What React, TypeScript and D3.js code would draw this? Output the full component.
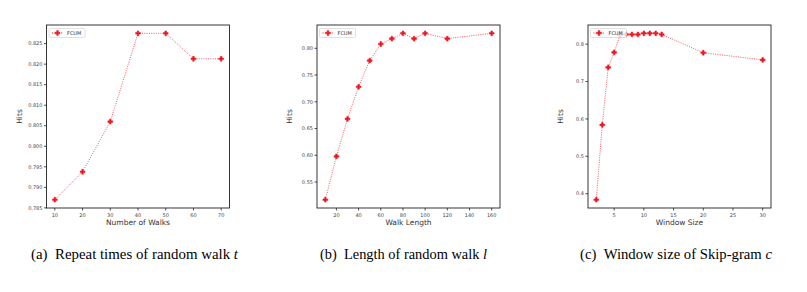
import React from "react";
import * as d3 from "d3";

// panel (a): repeat times of random walk
const walksX = [10, 20, 30, 40, 50, 60, 70];
const walksHits = [0.787, 0.7938, 0.806, 0.8275, 0.8275, 0.8213, 0.8213];
const walksTicksY = [0.785, 0.79, 0.795, 0.8, 0.805, 0.81, 0.815, 0.82, 0.825];
const walksTicksX = [10, 20, 30, 40, 50, 60, 70];

// panel (b): walk length
const lengthX = [10, 20, 30, 40, 50, 60, 70, 80, 90, 100, 120, 160];
const lengthHits = [0.517, 0.598, 0.668, 0.728, 0.777, 0.808, 0.818, 0.828, 0.818, 0.828, 0.818, 0.828];
const lengthTicksY = [0.55, 0.6, 0.65, 0.7, 0.75, 0.8];
const lengthTicksX = [20, 40, 60, 80, 100, 120, 140, 160];

// panel (c): window size
const windowX = [2, 3, 4, 5, 6, 7, 8, 9, 10, 11, 12, 13, 20, 30];
const windowHits = [0.384, 0.584, 0.738, 0.778, 0.825, 0.826, 0.826, 0.826, 0.829, 0.829, 0.829, 0.826, 0.777, 0.758];
const windowTicksY = [0.4, 0.5, 0.6, 0.7, 0.8];
const windowTicksX = [5, 10, 15, 20, 25, 30];

const seriesName = "FCUM";
const captions = [
    { tag: "(a)", text: "Repeat times of random walk ", v: "t" },
    { tag: "(b)", text: "Length of random walk ", v: "l" },
    { tag: "(c)", text: "Window size of Skip-gram ", v: "c" }
];

const panels = [
    { left: 46.5, right: 229.5, xs: walksX, ys: walksHits, tx: walksTicksX, ty: walksTicksY, fmtY: ".3f", xLabel: "Number of Walks", cap: { x: 31, w: 207 } },
    { left: 317, right: 500, xs: lengthX, ys: lengthHits, tx: lengthTicksX, ty: lengthTicksY, fmtY: ".2f", xLabel: "Walk Length", cap: { x: 320, w: 167 } },
    { left: 588, right: 771, xs: windowX, ys: windowHits, tx: windowTicksX, ty: windowTicksY, fmtY: ".1f", xLabel: "Window Size", cap: { x: 580, w: 192 } }
];

const top = 25;
const bottom = 208;
const red = "#f0141e";
const font = "DejaVu Sans, sans-serif";

function pad(ext) {
    const m = (ext[1] - ext[0]) * 0.05;
    return [ext[0] - m, ext[1] + m];
}

function Panel({ p, i }) {
    const xScale = d3.scaleLinear().domain(pad(d3.extent(p.xs))).range([p.left, p.right]);
    const yScale = d3.scaleLinear().domain(pad(d3.extent(p.ys))).range([bottom, top]);
    const line = d3.line()
        .x((d, k) => xScale(p.xs[k]))
        .y(d => yScale(d));
    const marker = d3.symbol().type(d3.symbolCross).size(13);
    const fmt = d3.format(p.fmtY);
    const cx = (p.left + p.right) / 2;
    const cap = captions[i];

    return (
        <g>
            <path d={line(p.ys)} fill="none" stroke={red} strokeOpacity={0.7} strokeWidth={1} strokeDasharray="1,1.3" />
            {p.ys.map((v, k) => (
                <path key={k} d={marker()} transform={`translate(${xScale(p.xs[k])},${yScale(v)})`} fill={red} stroke={red} strokeWidth={0.5} />
            ))}
            <rect x={p.left} y={top} width={p.right - p.left} height={bottom - top} fill="none" stroke="#222" strokeWidth={0.9} />
            {p.ty.map(t => (
                <g key={"y" + t} transform={`translate(${p.left},${yScale(t)})`}>
                    <line x1={-2.5} x2={0} stroke="#222" strokeWidth={0.8} />
                    <text x={-4} dy="0.35em" textAnchor="end" fontSize={5} fill="#444" fontFamily={font}>{fmt(t)}</text>
                </g>
            ))}
            {p.tx.map(t => (
                <g key={"x" + t} transform={`translate(${xScale(t)},${bottom})`}>
                    <line y1={0} y2={2.5} stroke="#222" strokeWidth={0.8} />
                    <text y={8.5} textAnchor="middle" fontSize={5} fill="#444" fontFamily={font}>{t}</text>
                </g>
            ))}
            <text x={cx} y={225} textAnchor="middle" fontSize={7.5} fill="#333" fontFamily={font}>{p.xLabel}</text>
            <text transform={`translate(${p.left - 25},${(top + bottom) / 2}) rotate(-90)`} textAnchor="middle" fontSize={7.5} fill="#333" fontFamily={font}>Hits</text>
            <g transform={`translate(${p.left + 2.5},${top + 3.5})`}>
                <rect width={36} height={9} rx={1} fill="#fff" fillOpacity={0.8} stroke="#ccc" strokeWidth={0.6} />
                <line x1={3} x2={14} y1={4.5} y2={4.5} stroke={red} strokeWidth={1} strokeDasharray="1,1.3" />
                <path d={marker()} transform="translate(8.5,4.5)" fill={red} stroke={red} strokeWidth={0.5} />
                <text x={18} y={4.5} dy="0.35em" fontSize={5} fill="#333" fontFamily={font}>{seriesName}</text>
            </g>
            <text x={p.cap.x} y={259} fontSize={14} fontFamily="Liberation Serif, serif" fill="#000" textLength={p.cap.w} lengthAdjust="spacingAndGlyphs">
                {cap.tag}{"\u00a0\u00a0"}{cap.text}<tspan fontStyle="italic">{cap.v}</tspan>
            </text>
        </g>
    );
}

export default function App() {
    return (
        <svg width={807} height={292} style={{ position: "absolute", left: 0, top: 0, background: "#fff" }}>
            <rect width={807} height={292} fill="#fff" />
            {panels.map((p, i) => <Panel key={i} p={p} i={i} />)}
        </svg>
    );
}
